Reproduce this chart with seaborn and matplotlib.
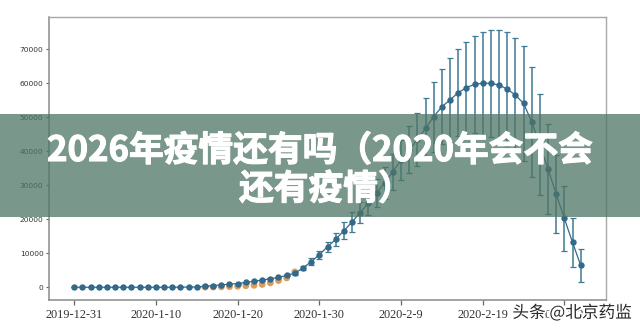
import numpy as np
import pandas as pd
import matplotlib
matplotlib.use("Agg")
import matplotlib.pyplot as plt
import matplotlib.patheffects as pe
from matplotlib.patches import Rectangle
import seaborn as sns

# ---------------- data ----------------
model_start = "2019-12-31"
model_mean = [0, 0, 0, 0, 0, 0, 0, 0, 0, 0, 0, 0, 0,
              30, 60, 100, 300, 500, 700, 900, 1100, 1400, 1800, 2100, 2500,
              2900, 3500, 4100, 5700, 7500, 9600, 11900, 14100, 16600, 19200,
              21950, 24700, 27650, 30800, 34000, 37400, 40400, 43500, 46750,
              50200, 53100, 55100, 57250, 58700, 59700, 60000, 60000, 59500,
              58300, 56550, 54100, 48700, 41900, 34800, 27400, 20250, 13200, 6450]
model_err = [0, 0, 0, 0, 0, 0, 0, 0, 0, 0, 0, 0, 0, 0, 0, 0, 0, 0, 0, 0,
             50, 80, 100, 150, 200, 250, 300, 400, 600, 1000, 1150, 1500, 2000,
             2450, 2800, 3100, 3500, 4100, 4700, 5300, 5900, 6900, 7850, 9000,
             10300, 11100, 12250, 12850, 13500, 14300, 15200, 15700, 16200,
             16700, 16850, 16950, 16200, 14900, 13300, 11400, 9550, 7300, 4800]

obs_start = "2020-01-16"
observed = [45, 62, 121, 198, 291, 440, 571, 830, 1287, 1975, 2744, 4515]

xtick_labels = ["2019-12-31", "2020-1-10", "2020-1-20", "2020-1-30",
                "2020-2-9", "2020-2-19", "2020-2-29"]
ytick_values = [0, 10000, 20000, 30000, 40000, 50000, 60000, 70000]

title_line1 = "2026年疫情还有吗（2020年会不会"
title_line2 = "还有疫情）"
watermark = "头条 @北京药监"

# ---------------- frames ----------------
model_df = pd.DataFrame({
    "date": pd.date_range(model_start, periods=len(model_mean)),
    "mean": model_mean,
    "err": model_err,
})
obs_df = pd.DataFrame({
    "date": pd.date_range(obs_start, periods=len(observed)),
    "count": observed,
})

# ---------------- style ----------------
sns.set_style("ticks")
plt.rcParams["font.family"] = ["DejaVu Sans"]

fig = plt.figure(figsize=(6.4, 3.32), dpi=100)
ax = fig.add_axes([49 / 640, 1 - 300 / 332, (606 - 49) / 640, (300 - 17) / 332])

blue = "#33698a"
err_col = "#3f7b92"
orange = "#dd9c58"

sns.scatterplot(data=obs_df, x="date", y="count", color=orange, s=24,
                edgecolor="none", ax=ax, zorder=1)
ax.errorbar(model_df["date"], model_df["mean"], yerr=model_df["err"],
            fmt="none", ecolor=err_col, elinewidth=1.1, capsize=2.4,
            capthick=0.9, zorder=2)
sns.lineplot(data=model_df, x="date", y="mean", color=blue, linewidth=0.9,
             marker="o", markersize=4.6, markeredgewidth=0, ax=ax, zorder=3)

t0 = pd.Timestamp(model_start)
ax.set_xlim(t0 - pd.Timedelta(days=3.1), t0 + pd.Timedelta(days=65.1))
ax.set_ylim(-3750, 79500)

ax.set_xticks(pd.to_datetime(xtick_labels))
ax.set_xticklabels(xtick_labels, fontfamily="Liberation Serif", fontsize=8.8,
                   color="#333333")
ax.set_yticks(ytick_values)
ax.set_yticklabels([str(v) for v in ytick_values], fontsize=5.4,
                   color="#333333")
ax.tick_params(axis="x", length=3.5, width=0.9, pad=3, color="#666666")
ax.tick_params(axis="y", length=2.5, width=0.8, pad=1.5, color="#666666")
ax.set_xlabel("")
ax.set_ylabel("")

for side in ["left", "bottom"]:
    ax.spines[side].set_color("#8a8a8a")
    ax.spines[side].set_linewidth(1.1)
for side in ["top", "right"]:
    ax.spines[side].set_visible(True)
    ax.spines[side].set_color("#a8a8a8")
    ax.spines[side].set_linewidth(1.0)

# ---------------- overlay banner ----------------
fig.patches.append(Rectangle((0, 1 - 217 / 332), 1, (217 - 114) / 332,
                             transform=fig.transFigure, facecolor="#4d7565",
                             alpha=0.75, edgecolor="none", zorder=10))
cjk = ["Noto Sans CJK SC", "DejaVu Sans"]
stroke = [pe.withStroke(linewidth=0.8, foreground="white")]
fig.text(0.5, 1 - 150.5 / 332, title_line1, ha="center", va="center",
         color="white", fontsize=25, fontweight="heavy", family=cjk, zorder=11,
         path_effects=stroke)
fig.text(326 / 640, 1 - 189 / 332, title_line2, ha="center", va="center",
         color="white", fontsize=25, fontweight="heavy", family=cjk, zorder=11,
         path_effects=stroke)

fig.text(572 / 640, 1 - 313 / 332, watermark, ha="center", va="center",
         color="#2a2a2a", fontsize=12, family=cjk, zorder=12,
         path_effects=[pe.withStroke(linewidth=2.5, foreground="white")])

fig.savefig("out.png", dpi=100)
